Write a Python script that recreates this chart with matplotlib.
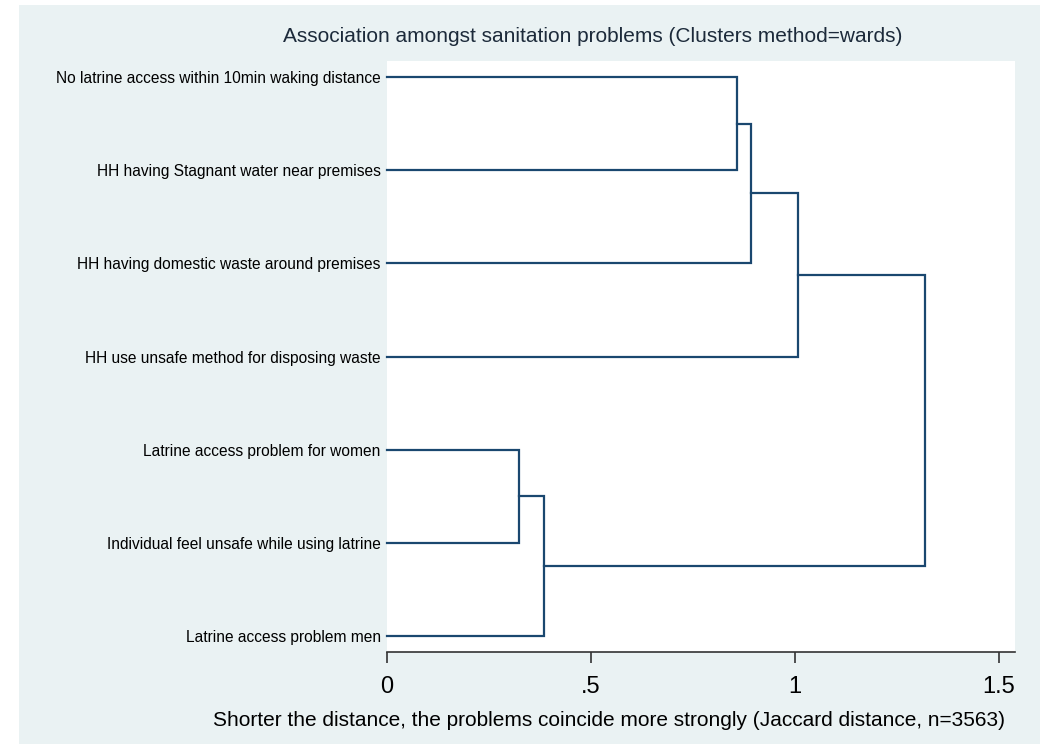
import matplotlib
matplotlib.use("Agg")
import matplotlib.pyplot as plt
from matplotlib.patches import Rectangle

plt.rcParams['font.family'] = ['Liberation Sans', 'DejaVu Sans']

# leaves, top to bottom
leaves = ['No latrine access within 10min waking distance',
          'HH having Stagnant water near premises',
          'HH having domestic waste around premises',
          'HH use unsafe method for disposing waste',
          'Latrine access problem for women',
          'Individual feel unsafe while using latrine',
          'Latrine access problem men']

# merges: node ids 0..6 are leaves, 7.. are new clusters in order
left_child = [0, 7, 8, 4, 10, 9]
right_child = [1, 2, 3, 5, 6, 11]
heights = [0.859, 0.892, 1.007, 0.323, 0.386, 1.319]

xticks = [0, 0.5, 1, 1.5]
xticklabels = ['0', '.5', '1', '1.5']

navy = '#1a476f'
bg = '#eaf2f3'

fig = plt.figure(figsize=(10.47, 7.44), dpi=100)
fig.patches.append(Rectangle((19/1047, 0), (1040-19)/1047, 1 - 5/744,
                             transform=fig.transFigure, facecolor=bg,
                             edgecolor='none', zorder=-10))
ax = fig.add_axes([387/1047, 1 - 652/744, (1015-387)/1047, (652-61)/744])
ax.set_facecolor('white')

# node positions
ypos = {i: float(i) for i in range(len(leaves))}
xpos = {i: 0.0 for i in range(len(leaves))}
for k, (a, b, h) in enumerate(zip(left_child, right_child, heights)):
    node = len(leaves) + k
    ax.plot([xpos[a], h, h, xpos[b]], [ypos[a], ypos[a], ypos[b], ypos[b]],
            color=navy, lw=1.6, solid_joinstyle='miter', clip_on=False)
    ypos[node] = (ypos[a] + ypos[b]) / 2
    xpos[node] = h

ax.set_xlim(0, 628/408)
ax.set_ylim(6.172, -0.172)

for s in ['top', 'right', 'left']:
    ax.spines[s].set_visible(False)
ax.spines['bottom'].set_color('#333333')
ax.spines['bottom'].set_linewidth(1.2)

ax.set_xticks(xticks)
ax.set_xticklabels(xticklabels, fontsize=17)
ax.tick_params(axis='x', length=8, width=1.2, color='#333333', pad=9)
ax.set_yticks(range(len(leaves)))
ax.set_yticklabels(leaves, fontsize=11.2)
ax.tick_params(axis='y', length=0, pad=4.5)

fig.text(593/1047, 1 - 37/744, 'Association amongst sanitation problems (Clusters method=wards)',
         ha='center', va='center', fontsize=15, color='#1c2a3a')
fig.text(609/1047, 1 - 721/744,
         'Shorter the distance, the problems coincide more strongly (Jaccard distance, n=3563)',
         ha='center', va='center', fontsize=15, color='black')

fig.savefig('out.png', dpi=100)
